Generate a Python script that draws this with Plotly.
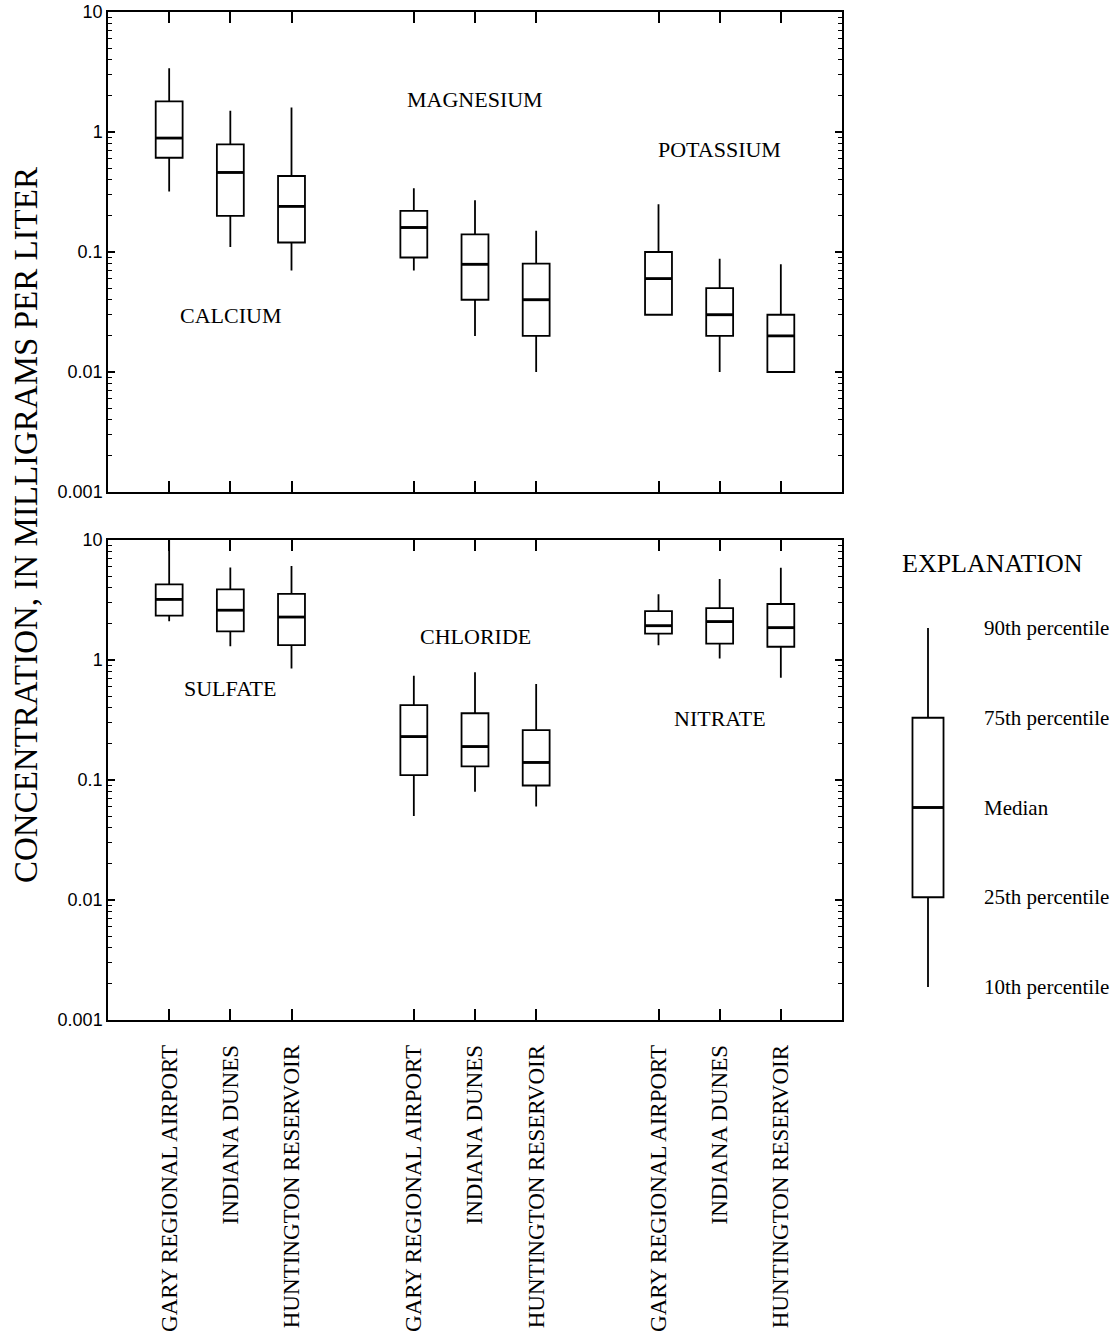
import plotly.graph_objects as go

# ---------------- data ----------------
sites = ["GARY REGIONAL AIRPORT", "INDIANA DUNES", "HUNTINGTON RESERVOIR"]
x_pos = [1, 2, 3, 5, 6, 7, 9, 10, 11]
tick_labels = sites * 3

# top panel: Calcium, Magnesium, Potassium (Gary, Indiana Dunes, Huntington each)
top_p10 = [0.32, 0.11, 0.07, 0.07, 0.02, 0.01, 0.03, 0.01, 0.01]
top_q1 = [0.61, 0.20, 0.12, 0.09, 0.04, 0.02, 0.03, 0.02, 0.01]
top_med = [0.89, 0.46, 0.24, 0.16, 0.079, 0.04, 0.06, 0.03, 0.02]
top_q3 = [1.8, 0.79, 0.43, 0.22, 0.14, 0.08, 0.10, 0.05, 0.03]
top_p90 = [3.4, 1.5, 1.6, 0.34, 0.27, 0.15, 0.25, 0.088, 0.079]

# bottom panel: Sulfate, Chloride, Nitrate
bot_p10 = [2.1, 1.3, 0.85, 0.05, 0.08, 0.06, 1.33, 1.03, 0.71]
bot_q1 = [2.34, 1.73, 1.33, 0.11, 0.13, 0.09, 1.66, 1.37, 1.29]
bot_med = [3.2, 2.6, 2.28, 0.23, 0.19, 0.14, 1.93, 2.09, 1.86]
bot_q3 = [4.27, 3.88, 3.55, 0.42, 0.36, 0.26, 2.55, 2.71, 2.93]
bot_p90 = [10.0, 5.9, 6.07, 0.74, 0.79, 0.63, 3.53, 4.73, 5.88]

top_names = ["CALCIUM", "MAGNESIUM", "POTASSIUM"]
top_name_x = [2, 6, 10]
top_name_logy = [-1.53, 0.27, -0.145]
bot_names = ["SULFATE", "CHLORIDE", "NITRATE"]
bot_name_x = [2, 6, 10]
bot_name_logy = [-0.235, 0.20, -0.49]

y_tickvals = [0.001, 0.01, 0.1, 1, 10]
y_ticktext = ["0.001", "0.01", "0.1", "1", "10"]

legend_vals = [0, 1, 2, 3, 4]
legend_labels = ["10th percentile", "25th percentile", "Median", "75th percentile", "90th percentile"]

# ---------------- style ----------------
SERIF = "Liberation Serif, Times New Roman, serif"
SANS = "Liberation Sans, Arial, sans-serif"
BOX_W = 0.44
LW = 1.8

fig = go.Figure()


def add_panel(xa, ya, p10, q1, med, q3, p90):
    fig.add_trace(go.Box(
        x=x_pos, q1=q1, median=med, q3=q3, lowerfence=p10, upperfence=p90,
        width=BOX_W, whiskerwidth=0, boxpoints=False,
        line=dict(color="black", width=LW), fillcolor="rgba(255,255,255,0)",
        xaxis=xa, yaxis=ya, showlegend=False, hoverinfo="skip"))
    mx, my = [], []
    for xv, mv in zip(x_pos, med):
        mx += [xv - BOX_W / 2, xv + BOX_W / 2, None]
        my += [mv, mv, None]
    fig.add_trace(go.Scatter(x=mx, y=my, mode="lines",
                             line=dict(color="black", width=2.8),
                             xaxis=xa, yaxis=ya, showlegend=False, hoverinfo="skip"))


add_panel("x", "y", top_p10, top_q1, top_med, top_q3, top_p90)
add_panel("x2", "y2", bot_p10, bot_q1, bot_med, bot_q3, bot_p90)

# explanation schematic
fig.add_trace(go.Box(
    x=[0], q1=[legend_vals[1]], median=[legend_vals[2]], q3=[legend_vals[3]],
    lowerfence=[legend_vals[0]], upperfence=[legend_vals[4]],
    width=0.97, whiskerwidth=0, boxpoints=False,
    line=dict(color="black", width=LW), fillcolor="rgba(255,255,255,0)",
    xaxis="x3", yaxis="y3", showlegend=False, hoverinfo="skip"))
fig.add_trace(go.Scatter(x=[-0.485, 0.485], y=[legend_vals[2]] * 2, mode="lines",
                         line=dict(color="black", width=2.8),
                         xaxis="x3", yaxis="y3", showlegend=False, hoverinfo="skip"))

W, H = 1116, 1333
ML, MR, MT, MB = 108, 10, 12, 313
PW = W - ML - MR
PH = H - MT - MB


def px_x(p):
    return (p - ML) / PW


def px_y(p):
    return (H - MB - p) / PH


xdom = [0, px_x(842)]

common_x = dict(range=[0, 12], tickvals=x_pos, ticktext=tick_labels,
                ticks="inside", ticklen=11, tickwidth=1.5, tickcolor="black",
                showline=True, linecolor="black", linewidth=1.5, mirror="ticks",
                showgrid=False, zeroline=False, domain=xdom, automargin=False)
common_y = dict(type="log", range=[-3, 1], tickvals=y_tickvals, ticktext=y_ticktext,
                ticks="inside", ticklen=7, tickwidth=1.5, tickcolor="black",
                minor=dict(ticks="inside", ticklen=4, tickwidth=1.2, tickcolor="black",
                           dtick="D1", showgrid=False),
                showline=True, linecolor="black", linewidth=1.5, mirror="ticks",
                showgrid=False, zeroline=False, automargin=False,
                tickfont=dict(family=SANS, size=18, color="black"))

fig.update_layout(
    width=W, height=H,
    margin=dict(l=ML, r=MR, t=MT, b=MB, autoexpand=False),
    paper_bgcolor="white", plot_bgcolor="white",
    xaxis=dict(common_x, anchor="y", showticklabels=False),
    yaxis=dict(common_y, anchor="x", domain=[px_y(492), px_y(12)]),
    xaxis2=dict(common_x, anchor="y2", showticklabels=True, tickangle=-90,
                ticklabelstandoff=14,
                tickfont=dict(family=SERIF, size=23, color="black")),
    yaxis2=dict(common_y, anchor="x2", domain=[px_y(1020), px_y(540)]),
    xaxis3=dict(range=[-1, 1], domain=[px_x(896), px_x(960)], visible=False,
                anchor="y3", fixedrange=True, automargin=False),
    yaxis3=dict(range=[-0.1, 4.1], domain=[px_y(996), px_y(619)], visible=False,
                anchor="x3", fixedrange=True, automargin=False),
)

ann = []
for name, xv, yv in zip(top_names, top_name_x, top_name_logy):
    ann.append(dict(text=name, x=xv, y=yv, xref="x", yref="y", showarrow=False,
                    xanchor="center", yanchor="middle",
                    font=dict(family=SERIF, size=22, color="black")))
for name, xv, yv in zip(bot_names, bot_name_x, bot_name_logy):
    ann.append(dict(text=name, x=xv, y=yv, xref="x2", yref="y2", showarrow=False,
                    xanchor="center", yanchor="middle",
                    font=dict(family=SERIF, size=22, color="black")))
for lab, v in zip(legend_labels, legend_vals):
    ann.append(dict(text=lab, x=px_x(982), y=v, xref="paper", yref="y3",
                    xanchor="left", yanchor="middle", showarrow=False,
                    font=dict(family=SERIF, size=21, color="black")))
ann.append(dict(text="EXPLANATION", x=px_x(992), y=px_y(563), xref="paper", yref="paper",
                xanchor="center", yanchor="middle",
                showarrow=False, font=dict(family=SERIF, size=26, color="black")))
ann.append(dict(text="CONCENTRATION, IN MILLIGRAMS PER LITER", x=px_x(26), y=px_y(525),
                xref="paper", yref="paper", textangle=-90, showarrow=False,
                xanchor="center", yanchor="middle",
                font=dict(family=SERIF, size=33, color="black")))
fig.update_layout(annotations=ann)

fig.write_html("out.html", config={"displayModeBar": False},
               post_script="document.body.style.margin='0';document.body.style.padding='0';")
